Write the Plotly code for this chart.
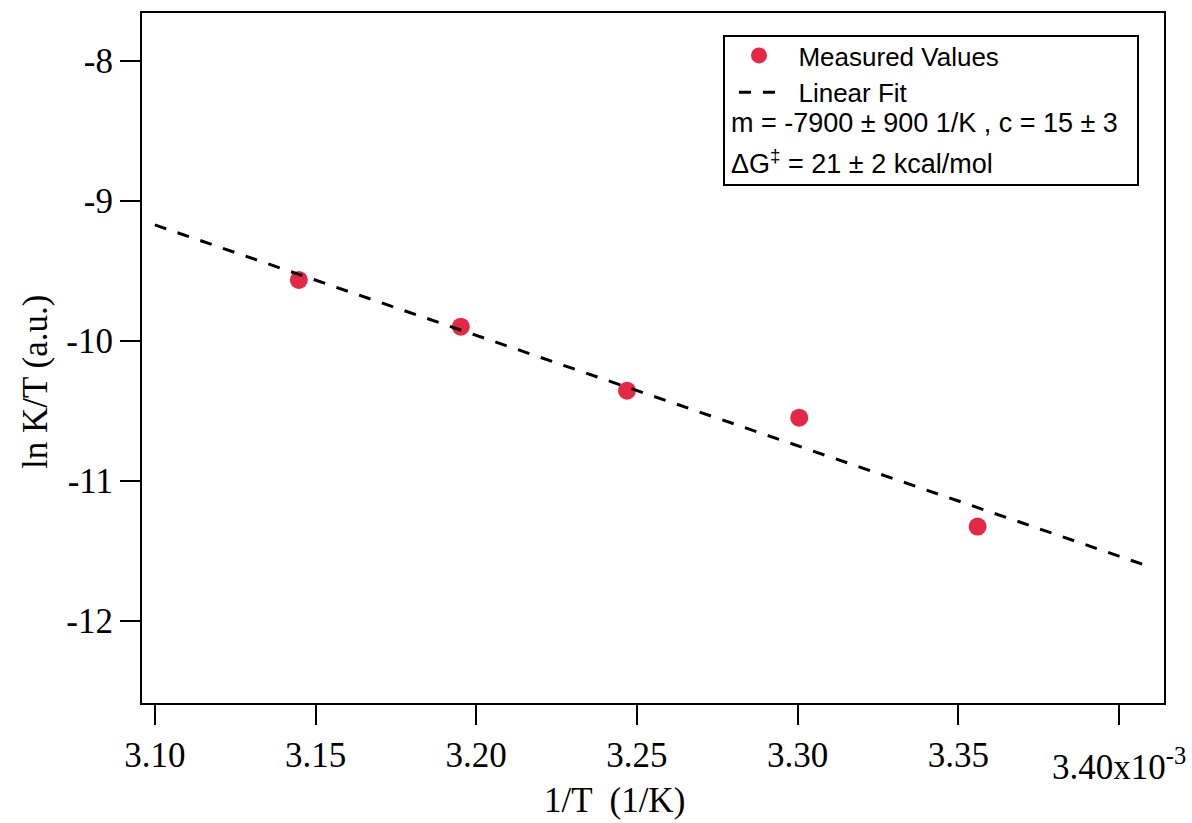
import plotly.graph_objects as go

# Data (x in units of 1e-3 1/K)
inv_T = [3.1448, 3.1952, 3.2469, 3.3005, 3.3560]
ln_k_over_T = [-9.564, -9.898, -10.355, -10.548, -11.326]

fit_x = [3.100, 3.410]
fit_y = [-9.171, -11.616]

x_tickvals = [3.10, 3.15, 3.20, 3.25, 3.30, 3.35, 3.40]
x_ticktext = ["3.10", "3.15", "3.20", "3.25", "3.30", "3.35", ""]
x_last_label = "3.40x10<sup>-3</sup>"
y_tickvals = [-8, -9, -10, -11, -12]
y_ticktext = ["-8", "-9", "-10", "-11", "-12"]

W, H = 1192, 823
L, R, T, B = 142, 1164, 13, 703
pw, ph = R - L, B - T

def px(xs):
    return (xs - L) / pw

def py(ys):
    return (B - ys) / ph

serif = "Liberation Serif"
sans = "Liberation Sans"
NB = "\u00a0\u00a0"

fig = go.Figure()
fig.add_trace(go.Scatter(
    x=inv_T, y=ln_k_over_T, mode="markers", name=NB + "Measured Values",
    marker=dict(color="#E62847", size=18, line=dict(width=0)),
))
fig.add_trace(go.Scatter(
    x=fit_x, y=fit_y, mode="lines", name=NB + "Linear Fit",
    line=dict(color="black", width=3, dash="12px,12px"),
))

axis_common = dict(
    showline=True, linecolor="black", linewidth=2, mirror=True,
    ticks="outside", ticklen=20, tickwidth=2, tickcolor="black",
    showgrid=False, zeroline=False, ticklabeloverflow="allow",
    tickfont=dict(family=serif, size=35, color="black"),
)

fig.update_xaxes(range=[3.096, 3.414], tickvals=x_tickvals, ticktext=x_ticktext, **axis_common)
fig.update_yaxes(range=[-12.586, -7.657], tickvals=y_tickvals, ticktext=y_ticktext, **axis_common)

fig.update_layout(
    width=W, height=H,
    margin=dict(l=L, r=W - R, t=T, b=H - B),
    plot_bgcolor="white", paper_bgcolor="white",
    showlegend=True,
    legend=dict(
        x=px(734), y=py(32), xanchor="left", yanchor="top",
        bgcolor="rgba(0,0,0,0)", borderwidth=0,
        font=dict(family=sans, size=26, color="black"),
        itemwidth=40, tracegroupgap=0,
    ),
    shapes=[dict(
        type="rect", xref="paper", yref="paper",
        x0=px(724), x1=px(1138), y0=py(185), y1=py(36),
        line=dict(color="black", width=2), fillcolor="rgba(0,0,0,0)",
    )],
    annotations=[
        dict(text=x_last_label, xref="x", yref="paper",
             x=x_tickvals[-1], y=py(764), xanchor="center", yanchor="middle", showarrow=False,
             font=dict(family=serif, size=35, color="black")),
        dict(text="m = -7900 ± 900 1/K , c = 15 ± 3", xref="paper", yref="paper",
             x=px(729), y=py(123), xanchor="left", yanchor="middle", showarrow=False,
             font=dict(family=sans, size=27, color="black")),
        dict(text="ΔG<sup>‡</sup> = 21 ± 2 kcal/mol", xref="paper", yref="paper",
             x=px(729), y=py(162), xanchor="left", yanchor="middle", showarrow=False,
             font=dict(family=sans, size=27, color="black")),
        dict(text="1/T  (1/K)", xref="paper", yref="paper",
             x=px(614), y=py(800), xanchor="center", yanchor="middle", showarrow=False,
             font=dict(family=serif, size=35, color="black")),
        dict(text="ln K/T (a.u.)", xref="paper", yref="paper", textangle=-90,
             x=px(35), y=py(382), xanchor="center", yanchor="middle", showarrow=False,
             font=dict(family=serif, size=35, color="black")),
    ],
)

fig.write_html(
    "out.html",
    config={"displayModeBar": False},
    post_script="document.body.style.margin='0';document.body.style.overflow='hidden';",
)
